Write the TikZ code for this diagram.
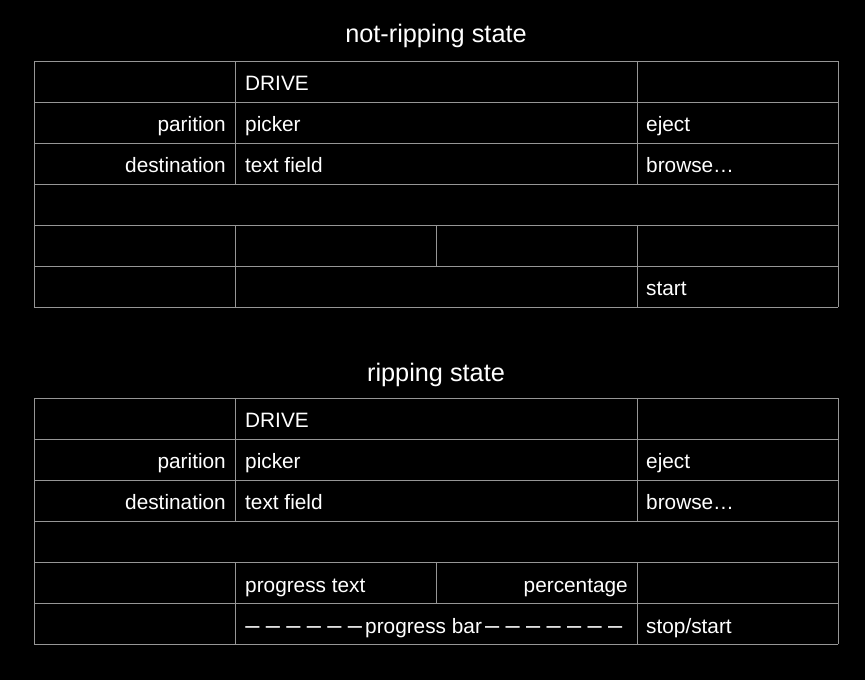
\documentclass[tikz,border=0pt]{standalone}
\usepackage{fontspec}
\setmainfont{Liberation Sans}
% one spaced dash of the progress bar
\newcommand{\bardash}{\makebox[20.5pt]{\scalebox{0.68}[1.15]{—}}}
\begin{document}
\begin{tikzpicture}[x=1pt,y=-1pt,
  grid/.style={draw=gridgray,line width=1pt},
  lt/.style={anchor=base west,text=white,font=\fontsize{20.8}{24}\selectfont,inner sep=0pt},
  rt/.style={anchor=base east,text=white,font=\fontsize{20.8}{24}\selectfont,inner sep=0pt},
  ttl/.style={anchor=base,text=white,font=\fontsize{25.3}{28}\selectfont,inner sep=0pt}]
\definecolor{gridgray}{RGB}{150,150,150}
\fill[black] (0,0) rectangle (865,680);
\useasboundingbox (0,0) rectangle (865,680);

% not-ripping state
\node[ttl] (t1) at (436,42) {not-ripping state};
\foreach \y in {61,102,143,184,225,266,307} \draw[grid] (34,\y) -- (838,\y);
\draw[grid] (34,61) -- (34,307);
\draw[grid] (838,61) -- (838,307);
\draw[grid] (235,61) -- (235,184);
\draw[grid] (637,61) -- (637,184);
\draw[grid] (235,225) -- (235,307);
\draw[grid] (436,225) -- (436,266);
\draw[grid] (637,225) -- (637,307);
\node[lt] (a1) at (245,90) {DRIVE};
\node[rt] (a2) at (226,131) {parition};
\node[lt] (a3) at (245,131) {picker};
\node[lt] (a4) at (646,131) {eject};
\node[rt] (a5) at (226,172) {destination};
\node[lt] (a6) at (245,172) {text field};
\node[lt] (a7) at (646,172) {browse…};
\node[lt] (a8) at (646,295) {start};

% ripping state
\node[ttl] (t2) at (436,381) {ripping state};
\foreach \y in {398,439,480,521,562,603,644} \draw[grid] (34,\y) -- (838,\y);
\draw[grid] (34,398) -- (34,644);
\draw[grid] (838,398) -- (838,644);
\draw[grid] (235,398) -- (235,521);
\draw[grid] (637,398) -- (637,521);
\draw[grid] (235,562) -- (235,644);
\draw[grid] (436,562) -- (436,603);
\draw[grid] (637,562) -- (637,644);
\node[lt] (b1) at (245,427) {DRIVE};
\node[rt] (b2) at (226,468) {parition};
\node[lt] (b3) at (245,468) {picker};
\node[lt] (b4) at (646,468) {eject};
\node[rt] (b5) at (226,509) {destination};
\node[lt] (b6) at (245,509) {text field};
\node[lt] (b7) at (646,509) {browse…};
\node[lt] (b8) at (245,592) {progress text};
\node[rt] (b9) at (628,592) {percentage};
\node[lt] (b10) at (242,633) {\bardash\bardash\bardash\bardash\bardash\bardash progress bar\bardash\bardash\bardash\bardash\bardash\bardash\bardash};
\node[lt] (b11) at (646,633) {stop/start};
\end{tikzpicture}
\end{document}
